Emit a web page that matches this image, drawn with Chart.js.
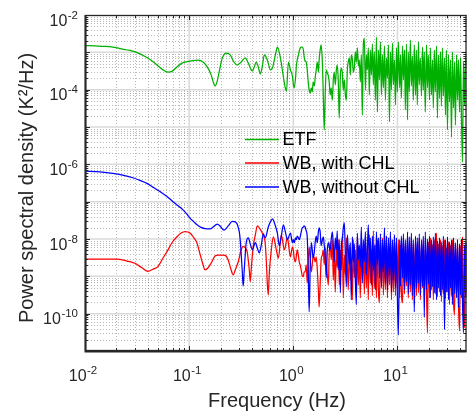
<!DOCTYPE html>
<html>
<head>
<meta charset="utf-8">
<script src="https://cdn.jsdelivr.net/npm/chart.js@4/dist/chart.umd.min.js"></script>
<style>
html,body{margin:0;padding:0;background:#ffffff;}
#wrap{width:468px;height:413px;position:relative;}
canvas{display:block;}
</style>
</head>
<body>
<div id="wrap"><canvas id="c" width="468" height="413" style="width:468px;height:413px"></canvas></div>
<script>
// ---------------- DATA (PSD stored as log10) ----------------
const seriesNames = ['ETF', 'WB, with CHL', 'WB, without CHL'];
const xTickExponents = [-2, -1, 0, 1];
const yTickExponents = [-10, -8, -6, -4, -2];

// low-frequency part (< 1 Hz) of each series
const etfLowFreq = [0.01,0.0124,0.0155,0.0185,0.0216,0.027,0.0337,0.0393,0.0469,0.0548,0.0627,0.0684,0.0764,0.0855,0.0955,0.109,0.122,0.136,0.149,0.163,0.170,0.178,0.186,0.194,0.203,0.212,0.227,0.248,0.265,0.289,0.316,0.346,0.370,0.404,0.422,0.441,0.461,0.482,0.504,0.527,0.564,0.603,0.630,0.673,0.703,0.752,0.785,0.820,0.859,0.897,0.938,0.980];
const etfLowLog10 = [-2.82,-2.83,-2.84,-2.86,-2.90,-2.95,-3.04,-3.14,-3.29,-3.45,-3.53,-3.51,-3.39,-3.29,-3.25,-3.22,-3.21,-3.26,-3.39,-3.61,-3.79,-3.90,-3.77,-3.53,-3.26,-3.10,-3.02,-3.07,-3.23,-3.34,-3.26,-3.15,-3.29,-3.50,-3.39,-3.26,-3.39,-3.58,-3.37,-3.07,-3.21,-3.47,-3.42,-3.07,-2.86,-3.15,-3.47,-3.82,-4.04,-3.26,-3.47,-3.63];

const chlLowFreq = [0.01,0.0139,0.0202,0.0252,0.0301,0.0352,0.0402,0.0449,0.0501,0.0561,0.0627,0.0684,0.0764,0.0836,0.0913,0.102,0.111,0.119,0.127,0.136,0.142,0.152,0.163,0.178,0.19,0.207,0.222,0.237,0.253,0.265,0.277,0.296,0.316,0.33,0.346,0.361,0.378,0.386,0.394,0.412,0.432,0.451,0.471,0.504,0.527,0.538,0.551,0.564,0.575,0.589,0.615,0.643,0.687,0.719,0.767,0.82,0.877,0.938,0.98];
const chlLowLog10 = [-8.54,-8.54,-8.54,-8.59,-8.65,-8.77,-8.87,-8.81,-8.74,-8.51,-8.29,-8.10,-7.94,-7.84,-7.80,-7.84,-7.97,-8.11,-8.40,-8.69,-8.83,-8.77,-8.64,-8.45,-8.43,-8.43,-8.44,-8.56,-8.83,-8.96,-8.83,-8.61,-8.29,-8.20,-8.24,-8.35,-8.83,-9.14,-8.83,-8.20,-7.89,-7.65,-7.70,-7.84,-7.97,-8.13,-8.61,-9.23,-9.50,-8.88,-8.29,-7.94,-8.29,-8.51,-7.89,-8.29,-7.97,-8.48,-8.21];

const noChlLowFreq = [0.01,0.0139,0.0185,0.0241,0.0288,0.0337,0.0393,0.0449,0.0524,0.0612,0.07,0.0782,0.0873,0.0955,0.102,0.111,0.119,0.13,0.142,0.159,0.17,0.186,0.198,0.216,0.237,0.259,0.277,0.289,0.303,0.309,0.323,0.33,0.338,0.353,0.37,0.386,0.404,0.432,0.451,0.471,0.493,0.515,0.538,0.575,0.603,0.63,0.673,0.703,0.734,0.767,0.803,0.839,0.877,0.938,0.98];
const noChlLowLog10 = [-6.18,-6.20,-6.24,-6.30,-6.36,-6.43,-6.51,-6.61,-6.73,-6.86,-7.00,-7.11,-7.22,-7.34,-7.44,-7.54,-7.62,-7.69,-7.72,-7.73,-7.68,-7.60,-7.65,-7.76,-7.65,-7.53,-7.54,-7.60,-7.81,-8.02,-8.83,-9.26,-8.83,-8.10,-7.97,-8.13,-8.29,-8.10,-8.24,-8.37,-8.16,-7.86,-7.97,-7.68,-7.54,-7.46,-7.65,-7.84,-8.18,-7.92,-7.62,-7.81,-8.02,-7.84,-8.10];

// high-frequency part (1 - 46 Hz), shared frequency list
const highFreq = [1.00,1.02,1.05,1.07,1.09,1.12,1.14,1.17,1.19,1.22,1.25,1.27,1.30,1.33,1.36,1.39,1.42,1.45,1.49,1.52,1.55,1.59,1.62,1.66,1.70,1.74,1.77,1.81,1.85,1.90,1.94,1.98,2.03,2.07,2.12,2.17,2.21,2.26,2.31,2.37,2.42,2.47,2.53,2.59,2.64,2.70,2.76,2.83,2.89,2.95,3.02,3.09,3.16,3.23,3.30,3.37,3.45,3.53,3.60,3.69,3.77,3.85,3.94,4.03,4.12,4.21,4.30,4.40,4.50,4.60,4.70,4.81,4.92,5.03,5.14,5.25,5.37,5.49,5.62,5.74,5.87,6.00,6.14,6.28,6.42,6.56,6.71,6.86,7.01,7.17,7.33,7.50,7.66,7.84,8.01,8.19,8.38,8.56,8.76,8.95,9.15,9.36,9.57,9.78,10.0,10.2,10.5,10.7,10.9,11.2,11.4,11.7,11.9,12.2,12.5,12.7,13.0,13.3,13.6,13.9,14.2,14.5,14.9,15.2,15.5,15.9,16.2,16.6,17.0,17.4,17.7,18.1,18.5,19.0,19.4,19.8,20.3,20.7,21.2,21.7,22.1,22.6,23.1,23.7,24.2,24.7,25.3,25.9,26.4,27.0,27.6,28.3,28.9,29.5,30.2,30.9,31.6,32.3,33.0,33.7,34.5,35.3,36.0,36.9,37.7,38.5,39.4,40.3,41.2,42.1,43.0,44.0,45.0,46.0];

const etfHighLog10 = [
-3.85,-3.95,-3.69,-3.37,-3.20,-3.07,-2.96,-2.88,-2.86,-2.86,
-2.94,-3.12,-3.23,-3.26,-3.47,-3.79,-4.01,-4.09,-3.95,-4.06,
-3.79,-3.90,-3.69,-3.47,-3.26,-3.53,-3.20,-2.94,-2.80,-3.26,
-4.14,-5.08,-4.01,-3.47,-3.55,-3.63,-3.79,-4.14,-3.95,-4.28,
-3.74,-3.53,-3.87,-3.47,-3.34,-3.74,-4.76,-3.61,-3.42,-3.53,
-4.01,-3.74,-4.14,-4.28,-3.47,-3.26,-3.15,-3.61,-3.07,-3.20,
-3.53,-3.42,-2.99,-3.26,-2.88,-3.37,-3.20,-3.79,-3.07,-4.68,
-2.80,-2.62,-4.01,-3.07,-3.47,-2.88,-4.14,-2.94,-3.61,-2.78,
-3.87,-2.99,-4.28,-2.59,-4.60,-2.94,-3.74,-2.72,-4.14,-3.07,
-3.95,-2.83,-4.28,-3.15,-3.69,-2.80,-4.86,-2.99,-4.01,-2.75,
-3.87,-3.20,-4.41,-2.88,-4.06,-2.72,-3.95,-3.07,-4.22,-2.83,
-3.74,-2.94,-4.54,-2.78,-4.81,-2.99,-4.06,-2.67,-3.90,-3.10,
-4.28,-2.80,-4.14,-2.94,-4.41,-2.72,-3.87,-3.15,-4.17,-2.86,
-4.01,-2.99,-4.60,-2.80,-3.95,-3.07,-4.28,-2.88,-4.14,-3.20,
-4.49,-2.94,-4.06,-2.83,-4.76,-3.07,-4.22,-2.99,-4.44,-2.88,
-4.17,-3.15,-4.68,-2.94,-5.08,-3.07,-4.33,-3.20,-5.27,-2.99,
-4.49,-3.26,-4.95,-3.07,-4.28,-3.20,-4.60,-3.15,-4.81,-5.94,
-3.26,-4.41,-3.10,-3.30];

const chlHighLog10 = [
-8.29,-8.51,-8.61,-8.45,-8.29,-8.45,-8.61,-8.72,-8.83,-8.99,
-9.01,-8.88,-8.88,-8.69,-9.18,-8.61,-8.21,-8.51,-8.88,-8.69,
-8.45,-8.51,-8.61,-8.48,-8.83,-9.36,-9.82,-9.23,-8.56,-8.43,
-8.29,-8.69,-8.24,-8.61,-8.96,-9.23,-8.43,-8.08,-8.56,-8.02,
-9.10,-8.29,-9.42,-8.18,-8.77,-8.02,-9.23,-8.29,-8.83,-7.92,
-9.58,-8.43,-8.96,-7.97,-8.69,-9.36,-8.16,-9.10,-8.51,-9.63,
-8.02,-9.04,-8.29,-9.42,-7.92,-9.23,-8.43,-9.58,-8.08,-9.10,
-8.29,-9.47,-7.97,-9.31,-8.18,-9.63,-7.89,-9.18,-8.29,-9.52,
-7.78,-9.31,-8.16,-9.58,-8.02,-9.36,-9.71,-8.13,-9.26,-7.97,
-9.50,-8.18,-9.36,-7.92,-9.58,-8.24,-9.23,-8.02,-9.63,-8.13,
-9.42,-7.94,-9.52,-8.29,-9.31,-8.02,-9.58,-8.16,-9.36,-9.71,
-7.97,-9.47,-8.18,-9.26,-8.02,-9.58,-8.29,-9.42,-7.92,-9.63,
-8.13,-9.36,-8.02,-9.52,-8.24,-9.44,-7.97,-9.63,-8.16,-9.31,
-8.02,-9.55,-8.18,-9.42,-10.51,-8.08,-9.58,-7.97,-9.36,-8.16,
-9.63,-8.02,-9.47,-7.84,-9.55,-8.13,-9.42,-8.02,-9.68,-8.18,
-9.47,-8.02,-9.60,-8.24,-9.42,-8.08,-9.76,-8.16,-9.52,-8.02,
-9.63,-10.03,-8.13,-9.50,-8.02,-9.71,-10.46,-8.18,-9.58,-7.94,
-9.63,-10.38,-8.13,-9.52];

const noChlHighLog10 = [
-8.02,-8.10,-7.97,-8.02,-7.92,-7.97,-8.02,-7.92,-7.81,-7.70,
-7.68,-7.65,-7.68,-7.78,-7.94,-8.83,-9.95,-8.83,-8.10,-8.29,
-8.51,-8.35,-8.10,-7.92,-8.10,-7.81,-7.70,-7.81,-8.18,-8.02,
-7.94,-8.16,-8.51,-9.04,-8.29,-8.10,-8.21,-8.29,-8.02,-7.81,
-8.16,-8.61,-7.97,-8.29,-7.78,-8.83,-8.02,-9.44,-8.18,-8.02,
-7.70,-7.57,-8.43,-9.28,-7.89,-8.29,-8.69,-8.10,-9.63,-7.94,
-8.61,-8.13,-9.10,-9.76,-7.84,-8.56,-8.16,-8.75,-7.68,-9.18,
-8.02,-8.61,-7.81,-8.96,-8.29,-7.62,-8.77,-7.97,-9.23,-7.92,
-8.83,-8.16,-9.36,-7.81,-8.69,-7.97,-9.04,-7.86,-9.31,-8.02,
-8.88,-7.70,-9.18,-7.92,-9.36,-7.97,-8.96,-7.81,-9.42,-8.02,
-9.10,-7.89,-9.31,-7.97,-9.63,-10.57,-8.02,-9.26,-7.92,-9.04,
-7.86,-9.36,-8.02,-9.15,-7.81,-9.47,-7.94,-9.23,-7.84,-9.52,
-8.02,-9.95,-7.92,-9.31,-7.97,-9.18,-7.86,-9.50,-8.02,-9.26,
-7.92,-10.09,-7.81,-9.36,-8.00,-9.20,-7.92,-9.58,-8.02,-9.28,
-7.94,-9.44,-7.84,-9.63,-8.05,-9.31,-7.97,-9.52,-8.08,-9.36,
-7.92,-10.43,-8.02,-9.42,-7.94,-9.63,-8.08,-9.31,-8.02,-9.76,
-7.97,-9.47,-8.10,-9.58,-8.02,-9.84,-8.13,-9.50,-8.00,-9.68,
-10.51,-8.16,-9.58,-8.08];

// ---------------- build points (log10 -> linear PSD) ----------------
function buildPoints(lowF, lowL, hiF, hiL) {
  const pts = [];
  const n1 = Math.min(lowF.length, lowL.length);
  for (let i = 0; i < n1; i++) pts.push({x: lowF[i], y: Math.pow(10, lowL[i])});
  const n2 = Math.min(hiF.length, hiL.length);
  for (let i = 0; i < n2; i++) pts.push({x: hiF[i], y: Math.pow(10, hiL[i])});
  return pts;
}
const etfPoints   = buildPoints(etfLowFreq, etfLowLog10, highFreq, etfHighLog10);
const chlPoints   = buildPoints(chlLowFreq, chlLowLog10, highFreq, chlHighLog10);
const noChlPoints = buildPoints(noChlLowFreq, noChlLowLog10, highFreq, noChlHighLog10);

const colors = ['#00b000', '#ff0000', '#0000ff'];
const AXIS = '#262626';
const FONT = '"Liberation Sans", Arial, Helvetica, sans-serif';
const BASE_SIZE = 16, EXP_SIZE = 11.5;

function powLabelWidth(ctx, exp) {
  ctx.font = BASE_SIZE + 'px ' + FONT;
  const wb = ctx.measureText('10').width;
  ctx.font = EXP_SIZE + 'px ' + FONT;
  const we = ctx.measureText(String(exp)).width;
  return wb + we + 0.5;
}
function drawPow(ctx, exp, left, baseline, raise) {
  ctx.font = BASE_SIZE + 'px ' + FONT;
  ctx.textAlign = 'left';
  ctx.textBaseline = 'alphabetic';
  ctx.fillText('10', left, baseline);
  const wb = ctx.measureText('10').width;
  ctx.font = EXP_SIZE + 'px ' + FONT;
  ctx.fillText(String(exp), left + wb + 0.5, baseline - raise);
}

const matlabAxes = {
  id: 'matlabAxes',
  beforeDatasetsDraw(chart) {
    const {ctx, chartArea: a, scales: {x, y}} = chart;
    ctx.save();
    ctx.beginPath(); ctx.rect(a.left, a.top, a.right - a.left, a.bottom - a.top); ctx.clip();
    // minor grid (dotted)
    ctx.lineWidth = 1;
    ctx.setLineDash([1, 2]);
    ctx.strokeStyle = 'rgba(70,70,70,0.38)';
    ctx.beginPath();
    for (let d = -11; d < -2; d++) for (let k = 2; k <= 9; k++) {
      const p = Math.round(y.getPixelForValue(k * Math.pow(10, d))) + 0.5;
      ctx.moveTo(a.left, p); ctx.lineTo(a.right, p);
    }
    for (let d = -2; d <= 1; d++) for (let k = 2; k <= 9; k++) {
      const v = k * Math.pow(10, d);
      if (v > x.max) continue;
      const p = Math.round(x.getPixelForValue(v)) + 0.5;
      ctx.moveTo(p, a.top); ctx.lineTo(p, a.bottom);
    }
    ctx.stroke();
    // major grid (solid light)
    ctx.setLineDash([]);
    ctx.strokeStyle = '#dadada';
    ctx.lineWidth = 1.5;
    ctx.beginPath();
    for (let d = -10; d <= -3; d++) {
      const p = y.getPixelForValue(Math.pow(10, d));
      ctx.moveTo(a.left, p); ctx.lineTo(a.right, p);
    }
    for (let d = -1; d <= 1; d++) {
      const p = x.getPixelForValue(Math.pow(10, d));
      ctx.moveTo(p, a.top); ctx.lineTo(p, a.bottom);
    }
    ctx.stroke();
    ctx.restore();
  },
  afterDatasetsDraw(chart) {
    const {ctx, chartArea: a, scales: {x, y}} = chart;
    ctx.save();
    ctx.setLineDash([]);
    ctx.strokeStyle = AXIS;
    ctx.fillStyle = AXIS;
    // ticks (inward, on all four sides)
    ctx.lineWidth = 1;
    ctx.beginPath();
    for (let d = -11; d <= -2; d++) {
      for (let k = 1; k <= 9; k++) {
        if (d === -2 && k > 1) break;
        const p = Math.round(y.getPixelForValue(k * Math.pow(10, d))) + 0.5;
        const len = k === 1 ? 5 : 3;
        ctx.moveTo(a.left, p); ctx.lineTo(a.left + len, p);
        ctx.moveTo(a.right, p); ctx.lineTo(a.right - len, p);
      }
    }
    for (let d = -2; d <= 1; d++) {
      for (let k = 1; k <= 9; k++) {
        const v = k * Math.pow(10, d);
        if (v > x.max) break;
        const p = Math.round(x.getPixelForValue(v)) + 0.5;
        const len = k === 1 ? 5 : 3;
        ctx.moveTo(p, a.bottom); ctx.lineTo(p, a.bottom - len);
        ctx.moveTo(p, a.top); ctx.lineTo(p, a.top + len);
      }
    }
    ctx.stroke();
    // box
    ctx.lineWidth = 1.3;
    ctx.strokeRect(a.left + 0.5, a.top + 0.5, a.right - a.left - 1, a.bottom - a.top - 1);
    ctx.lineWidth = 2;
    ctx.beginPath();
    ctx.moveTo(a.left + 0.5, a.top); ctx.lineTo(a.left + 0.5, a.bottom + 0.5); ctx.lineTo(a.right, a.bottom + 0.5);
    ctx.stroke();

    // tick labels
    ctx.fillStyle = AXIS;
    xTickExponents.forEach(e => {
      const px = x.getPixelForValue(Math.pow(10, e));
      const w = powLabelWidth(ctx, e);
      drawPow(ctx, e, px - 2 - w / 2, 380.5, 6.5);
    });
    yTickExponents.forEach(e => {
      const py = y.getPixelForValue(Math.pow(10, e));
      const w = powLabelWidth(ctx, e);
      drawPow(ctx, e, 78 - w, py + 10.5, 7);
    });

    // axis titles
    ctx.font = '20px ' + FONT;
    ctx.textAlign = 'center';
    ctx.textBaseline = 'alphabetic';
    ctx.fillText('Frequency (Hz)', 277, 407);
    ctx.save();
    ctx.translate(33, 188);
    ctx.rotate(-Math.PI / 2);
    ctx.fillText('Power spectral density (K\u00B2/Hz)', 0, 0);
    ctx.restore();

    // legend (inside plot, no box)
    const ly = [139.5, 163, 187];
    ctx.font = '18px ' + FONT;
    ctx.textAlign = 'left';
    ctx.textBaseline = 'middle';
    seriesNames.forEach((name, i) => {
      ctx.strokeStyle = colors[i];
      ctx.lineWidth = 1.3;
      ctx.beginPath();
      ctx.moveTo(245, ly[i]); ctx.lineTo(279, ly[i]);
      ctx.stroke();
      ctx.fillStyle = '#000000';
      ctx.fillText(name, 282.5, ly[i] + 1);
    });
    ctx.restore();
  }
};

new Chart(document.getElementById('c').getContext('2d'), {
  type: 'line',
  data: {
    datasets: [
      {label: seriesNames[0], data: etfPoints,   borderColor: colors[0], order: 3},
      {label: seriesNames[1], data: chlPoints,   borderColor: colors[1], order: 2},
      {label: seriesNames[2], data: noChlPoints, borderColor: colors[2], order: 1}
    ]
  },
  options: {
    responsive: false,
    animation: false,
    devicePixelRatio: 1,
    layout: {padding: {left: 85, top: 15, right: 1.5, bottom: 62}},
    elements: {
      point: {radius: 0, hoverRadius: 0},
      line: {borderWidth: 1.25, cubicInterpolationMode: 'monotone', fill: false}
    },
    scales: {
      x: {type: 'logarithmic', min: 0.01, max: 46, display: false},
      y: {type: 'logarithmic', min: 1e-11, max: 1e-2, display: false}
    },
    plugins: {legend: {display: false}, tooltip: {enabled: false}}
  },
  plugins: [matlabAxes]
});
</script>
</body>
</html>
